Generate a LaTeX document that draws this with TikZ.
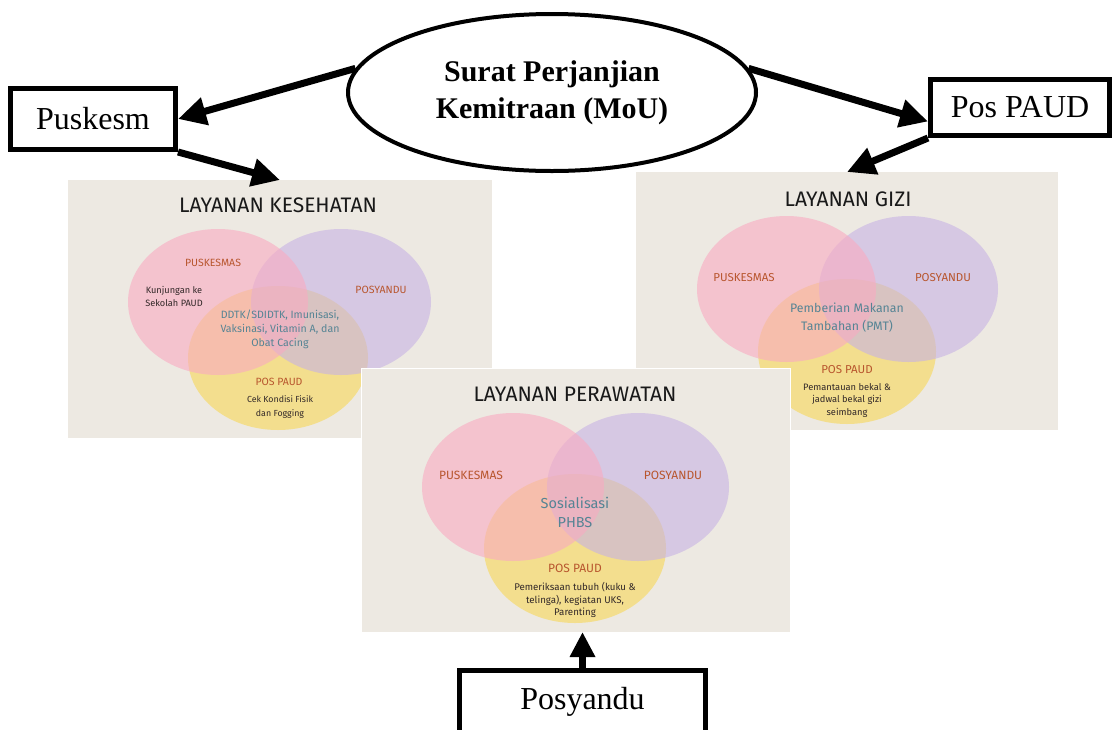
\documentclass[tikz,border=0pt]{standalone}
\usepackage{fontspec}
\setmainfont{Liberation Serif}
\newfontfamily\hand{Fira Sans}
\usetikzlibrary{arrows.meta,shapes.geometric,calc,shadows}
\definecolor{panelbg}{RGB}{237,233,226}
\definecolor{vpink}{RGB}{249,170,193}
\definecolor{vpurple}{RGB}{199,178,228}
\definecolor{vyellow}{RGB}{247,216,86}
\definecolor{lblc}{RGB}{184,86,46}
\definecolor{txtc}{RGB}{50,40,40}
\definecolor{ctxtc}{RGB}{85,132,148}
\begin{document}
\begin{tikzpicture}[x=1pt,y=-1pt,
  panel/.style={fill=panelbg, draw=none, inner sep=0pt, outer sep=0pt},
  vy/.style={fill=vyellow, fill opacity=0.6},
  vpu/.style={fill=vpurple, fill opacity=0.6},
  vpi/.style={fill=vpink, fill opacity=0.6},
  ttl/.style={font=\hand\fontsize{21}{24}\selectfont, text=black!90},
  vl/.style={font=\hand\fontsize{10.5}{12}\selectfont, text=lblc},
  vd/.style={font=\hand\fontsize{9.2}{13}\selectfont, text=txtc, align=center},
  vc/.style={font=\hand\fontsize{10.6}{14}\selectfont, text=ctxtc, align=center},
  box/.style={draw=black, line width=5pt, fill=white, inner sep=0pt,
    font=\fontsize{32}{36}\selectfont,
    drop shadow={shadow xshift=2pt, shadow yshift=-2pt, opacity=0.3}},
  arr/.style={line width=7pt, -{Triangle[length=28pt,width=27pt]}},
]
\useasboundingbox (0,0) rectangle (1116,729);
\clip (0,0) rectangle (1116,729);
\fill[white] (0,0) rectangle (1116,729);

% ---------- Layanan Kesehatan ----------
\node[panel, minimum width=424pt, minimum height=258pt] (kes) at (280,309) {};
\fill[vy] (278,358) ellipse (90 and 72);
\fill[vpu] (341,302) ellipse (90 and 73);
\fill[vpi] (218,302) ellipse (90 and 73);
\node[ttl] (kest) at (278,205) {LAYANAN KESEHATAN};
\node[vl] (kes1) at (213,263) {PUSKESMAS};
\node[vd] (kes2) at (174,296) {Kunjungan ke\\Sekolah PAUD};
\node[vl] (kes3) at (381,290) {POSYANDU};
\node[vc] (kes4) at (280,329) {DDTK/SDIDTK, Imunisasi,\\Vaksinasi, Vitamin A, dan\\Obat Cacing};
\node[vl] (kes5) at (279,382) {POS PAUD};
\node[vd, font=\hand\fontsize{8.8}{14}\selectfont] (kes6) at (280,407) {Cek Kondisi Fisik\\dan Fogging};

% ---------- Layanan Gizi ----------
\node[panel, minimum width=422pt, minimum height=258pt] (gizi) at (847,301) {};
\fill[vy] (847,351.5) ellipse (89 and 72.5);
\fill[vpu] (908.5,289) ellipse (89.5 and 73);
\fill[vpi] (786.5,289) ellipse (89.5 and 73);
\node[ttl] (gizit) at (848,199) {LAYANAN GIZI};
\node[vl, font=\hand\fontsize{11.5}{13}\selectfont] (gizi1) at (744,278) {PUSKESMAS};
\node[vl, font=\hand\fontsize{11.5}{13}\selectfont] (gizi2) at (943,278) {POSYANDU};
\node[vc, font=\hand\fontsize{12.3}{18}\selectfont] (gizi3) at (847,318) {Pemberian Makanan\\Tambahan (PMT)};
\node[vl, font=\hand\fontsize{11.5}{13}\selectfont] (gizi4) at (847,370) {POS PAUD};
\node[vd, font=\hand\fontsize{9.3}{12.5}\selectfont] (gizi5) at (847,400) {Pemantauan bekal \&\\jadwal bekal gizi\\seimbang};

% ---------- Layanan Perawatan ----------
\node[panel, minimum width=429pt, minimum height=264pt, draw=white, line width=1pt] (per) at (575.5,500) {};
\fill[vy] (575,548.5) ellipse (91 and 74.5);
\fill[vpu] (638,487) ellipse (91 and 74);
\fill[vpi] (513,487) ellipse (91 and 74);
\node[ttl] (pert) at (575,394) {LAYANAN PERAWATAN};
\node[vl, font=\hand\fontsize{12}{13}\selectfont] (per1) at (471,475) {PUSKESMAS};
\node[vl, font=\hand\fontsize{12}{13}\selectfont] (per2) at (673,475) {POSYANDU};
\node[vc, font=\hand\fontsize{14.5}{19}\selectfont] (per3) at (575,512.5) {Sosialisasi\\PHBS};
\node[vl, font=\hand\fontsize{12}{13}\selectfont] (per4) at (575,568) {POS PAUD};
\node[vd, font=\hand\fontsize{9.7}{12.5}\selectfont] (per5) at (575,600) {Pemeriksaan tubuh (kuku \&\\telinga), kegiatan UKS,\\Parenting};

% ---------- Top diagram ----------
\node[draw=black, line width=4pt, ellipse, fill=white, minimum width=408pt, minimum height=157pt,
  align=center, font=\bfseries\fontsize{30}{37}\selectfont] (mou) at (552,92.5)
  {Surat Perjanjian\\Kemitraan (MoU)};
\node[box, minimum width=165pt, minimum height=61pt] (pusk) at (93,119) {Puskesm};
\node[box, minimum width=179pt, minimum height=56pt] (pp) at (1020,107.5) {Pos PAUD};
\node[box, minimum width=246pt, minimum height=63pt] (posy) at (582.5,702) {Posyandu};

\draw[arr] (mou.173) -- (pusk.east);
\draw[arr] (mou.7) -- ($(pp.west)+(0,14)$);
\draw[arr] (pusk.south east) -- (kes.north);
\draw[arr] (pp.south west) -- (gizi.north);
\draw[arr, -{Triangle[length=25pt,width=24pt]}] (posy.north) -- (posy.north |- per.south);
\end{tikzpicture}
\end{document}
